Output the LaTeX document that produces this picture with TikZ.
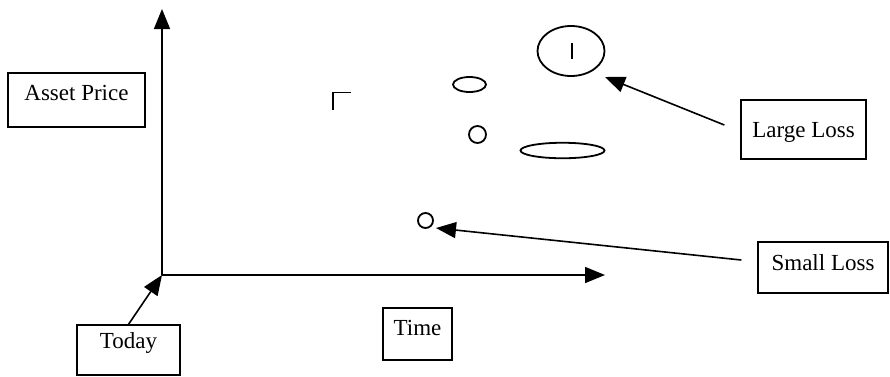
\documentclass[tikz,border=0pt]{standalone}
\usepackage{fontspec}
\setmainfont{Liberation Serif}
\usetikzlibrary{arrows.meta,shapes.geometric}
\tikzset{
  lbl/.style={draw, line width=1.3pt, inner sep=0pt, font=\fontsize{23}{27}\selectfont, anchor=base},
  arr/.style={line width=1.6pt, -{Triangle[length=20pt,width=16pt]}},
  shp/.style={draw, line width=1.8pt, inner sep=0pt},
}
\begin{document}
\begin{tikzpicture}[x=1pt,y=-1pt]
\useasboundingbox (0,0) rectangle (890,376);
% boxes
\node[lbl, minimum width=137pt, text height=27pt, text depth=27pt] (ap) at (76.5,100) {Asset Price};
\node[lbl, minimum width=103pt, text height=23pt, text depth=27pt] (today) at (128.5,348) {Today};
\node[lbl, minimum width=69pt, text height=27pt, text depth=25pt] (time) at (417.5,335) {Time};
\node[lbl, minimum width=130pt, text height=28pt, text depth=23pt] (sl) at (823,270) {Small Loss};
\node[lbl, minimum width=125pt, text height=37pt, text depth=22pt] (ll) at (803.5,137) {Large Loss};
% axes
\coordinate (O) at (162,275);
\coordinate (ytip) at (162,9);
\coordinate (xtip) at (605,275);
\draw[arr] (O) -- (ytip);
\draw[arr] (O) -- (xtip);
% shapes
\node[shp, ellipse, minimum width=67pt, minimum height=50pt] (big) at (571,51) {};
\draw[line width=1.8pt] (572,43) -- (572,59);
\node[shp, ellipse, minimum width=33pt, minimum height=15pt] (e1) at (469.5,84.5) {};
\node[shp, circle, minimum size=17pt] (c1) at (477.5,134.5) {};
\node[shp, ellipse, minimum width=84pt, minimum height=15.5pt] (e2) at (562.5,150.5) {};
\node[shp, circle, minimum size=15pt] (c2) at (425.5,220.5) {};
\draw[line width=1.8pt] (333,110) -- (333,92.5) -- (351,92.5);
% arrows
\coordinate (lltip) at (605,77);
\coordinate (sltip) at (436,228);
\draw[arr] ([xshift=-16pt,yshift=4.5pt]ll.west) -- (lltip);
\draw[arr] ([xshift=-16pt,yshift=7.5pt]sl.west) -- (sltip);
\draw[arr] (today.north) -- (O);
\end{tikzpicture}
\end{document}
